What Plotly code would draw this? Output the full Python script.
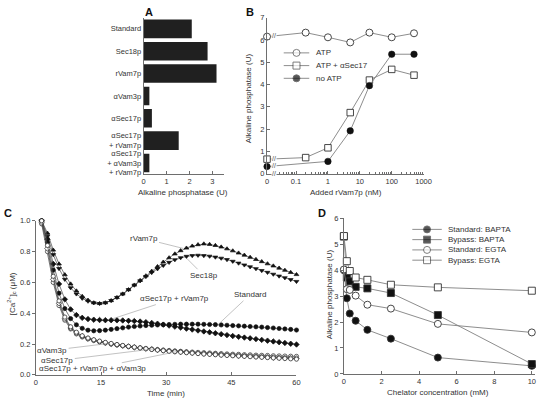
import numpy as np
import plotly.graph_objects as go

W, H = 544, 405
FONT = "Liberation Sans, Arial, Helvetica, sans-serif"
TXT = "#333333"
AXC = "#6e6e6e"
LNC = "#808080"

# ---------------- Panel A data ----------------
a_categories = ["Standard", "Sec18p", "rVam7p", "αVam3p", "αSec17p",
                "αSec17p<br>+ rVam7p", "αSec17p<br>+ αVam3p<br>+ rVam7p"]
a_values = [2.1, 2.79, 3.18, 0.25, 0.36, 1.53, 0.25]
a_ticks = [0, 1, 2, 3]

# ---------------- Panel B data ----------------
b_x_atp = [0, 0.2, 1, 5, 20, 100, 500]
b_atp = [6.15, 6.33, 6.12, 5.89, 6.33, 6.12, 6.30]
b_x_sec17 = [0, 0.2, 1, 5, 20, 100, 500]
b_atp_sec17 = [0.65, 0.72, 1.16, 2.74, 4.20, 4.68, 4.42]
b_x_noatp = [0, 1, 5, 20, 100, 500]
b_noatp = [0.32, 0.55, 1.92, 3.95, 5.36, 5.36]
b_ticktext = ["0", "0.1", "1", "10", "100", "1000"]
b_tickvals_real = [0, 0.1, 1, 10, 100, 1000]

# ---------------- Panel C data ----------------
c_time = [1.33, 2.67, 4.0, 5.33, 6.67, 8.0, 9.33, 10.67, 12.0, 13.33, 14.67, 16.0,
          17.33, 18.67, 20.0, 21.33, 22.67, 24.0, 25.33, 26.67, 28.0, 29.33, 30.67,
          32.0, 33.33, 34.67, 36.0, 37.33, 38.67, 40.0, 41.33, 42.67, 44.0, 45.33,
          46.67, 48.0, 49.33, 50.67, 52.0, 53.33, 54.67, 56.0, 57.33, 58.67, 60.0]
c_rvam7p = [1.00, 0.92, 0.81, 0.72, 0.65, 0.59, 0.545, 0.51, 0.485, 0.468, 0.463, 0.468, 0.482, 0.502,
            0.525, 0.553, 0.583, 0.613, 0.643, 0.673, 0.703, 0.732, 0.76, 0.785, 0.806, 0.823, 0.836, 0.845, 0.85,
            0.847, 0.84, 0.83, 0.818, 0.805, 0.791, 0.777, 0.763, 0.749, 0.735, 0.721, 0.707, 0.693, 0.679, 0.665, 0.651]
c_sec18p = [1.00, 0.90, 0.78, 0.69, 0.62, 0.565, 0.525, 0.497, 0.478, 0.467, 0.463, 0.468, 0.482, 0.502,
            0.525, 0.553, 0.582, 0.61, 0.638, 0.664, 0.688, 0.71, 0.73, 0.747, 0.76, 0.769, 0.774, 0.776, 0.774,
            0.77, 0.764, 0.757, 0.748, 0.737, 0.725, 0.713, 0.701, 0.689, 0.677, 0.665, 0.653, 0.641, 0.63, 0.618, 0.606]
c_sec17_rvam = [1.00, 0.88, 0.72, 0.59, 0.49, 0.425, 0.388, 0.37, 0.362, 0.358, 0.356, 0.355, 0.355, 0.354,
                0.353, 0.351, 0.349, 0.346, 0.342, 0.337, 0.332, 0.326, 0.32, 0.313, 0.307, 0.30, 0.294, 0.288, 0.282,
                0.276, 0.27, 0.264, 0.258, 0.252, 0.247, 0.242, 0.237, 0.232, 0.227, 0.222, 0.217, 0.212, 0.207, 0.202, 0.197]
c_standard = [1.00, 0.86, 0.68, 0.53, 0.43, 0.365, 0.325, 0.302, 0.29, 0.286, 0.287, 0.29, 0.295, 0.30,
              0.305, 0.31, 0.314, 0.317, 0.32, 0.322, 0.324, 0.326, 0.327, 0.328, 0.329, 0.329, 0.329, 0.329, 0.328,
              0.327, 0.326, 0.324, 0.322, 0.32, 0.318, 0.316, 0.314, 0.312, 0.31, 0.307, 0.304, 0.301, 0.298, 0.295, 0.291]
c_vam3 = [0.98, 0.80, 0.60, 0.45, 0.355, 0.298, 0.266, 0.246, 0.233, 0.223, 0.214, 0.207, 0.2, 0.194,
          0.189, 0.184, 0.179, 0.175, 0.171, 0.167, 0.164, 0.161, 0.158, 0.155, 0.153, 0.15, 0.148, 0.146, 0.144,
          0.142, 0.14, 0.138, 0.136, 0.134, 0.133, 0.131, 0.13, 0.128, 0.127, 0.126, 0.124, 0.123, 0.122, 0.121, 0.12]
c_sec17 = [0.99, 0.82, 0.62, 0.465, 0.365, 0.305, 0.272, 0.25, 0.236, 0.225, 0.216, 0.208, 0.201, 0.195,
           0.189, 0.184, 0.179, 0.174, 0.17, 0.166, 0.162, 0.158, 0.155, 0.152, 0.149, 0.146, 0.143, 0.14, 0.138,
           0.136, 0.133, 0.131, 0.129, 0.127, 0.125, 0.123, 0.121, 0.119, 0.117, 0.115, 0.113, 0.112, 0.11, 0.109, 0.107]
c_triple = [1.00, 0.84, 0.64, 0.48, 0.375, 0.312, 0.277, 0.254, 0.239, 0.228, 0.219, 0.211, 0.204, 0.197,
            0.191, 0.185, 0.18, 0.175, 0.17, 0.165, 0.161, 0.157, 0.153, 0.15, 0.147, 0.144, 0.141, 0.138, 0.135,
            0.133, 0.131, 0.128, 0.126, 0.124, 0.122, 0.12, 0.118, 0.116, 0.114, 0.112, 0.11, 0.108, 0.106, 0.104, 0.102]
c_ticks_x = [0, 15, 30, 45, 60]
c_ticks_y = [0.0, 0.2, 0.4, 0.6, 0.8, 1.0]

# ---------------- Panel D data ----------------
d_x = [0, 0.156, 0.3125, 0.625, 1.25, 2.5, 5, 10]
d_std_bapta = [4.0, 2.92, 2.33, 2.05, 1.70, 1.36, 0.63, 0.31]
d_byp_bapta = [5.3, 3.72, 3.57, 3.36, 3.30, 3.12, 2.27, 0.38]
d_std_egta = [4.03, 3.27, 3.24, 3.02, 2.67, 2.52, 1.93, 1.60]
d_byp_egta = [5.32, 4.35, 3.97, 3.72, 3.63, 3.44, 3.34, 3.21]
d_ticks_x = [0, 2, 4, 6, 8, 10]
d_ticks_y = [0, 1, 2, 3, 4, 5, 6]


def xd(a, b):
    return [a / W, b / W]


def yd(top, bottom):
    return [1 - bottom / H, 1 - top / H]


fig = go.Figure()

# ---- A ----
fig.add_trace(go.Bar(y=a_categories, x=a_values, orientation="h",
                     marker=dict(color="#202020", line=dict(width=0)),
                     xaxis="x", yaxis="y", showlegend=False))

# ---- B ----
ZERO_POS = 10 ** (-1.91)


def bx(vals):
    return [ZERO_POS if v == 0 else v for v in vals]


line_b = dict(color=LNC, width=0.9)
fig.add_trace(go.Scatter(x=bx(b_x_atp), y=b_atp, mode="lines+markers", line=line_b,
                         marker=dict(symbol="circle", size=7, color="white", line=dict(color="#333", width=0.9)),
                         xaxis="x2", yaxis="y2", showlegend=False, cliponaxis=False))
fig.add_trace(go.Scatter(x=bx(b_x_sec17), y=b_atp_sec17, mode="lines+markers", line=line_b,
                         marker=dict(symbol="square", size=6.5, color="white", line=dict(color="#333", width=0.9)),
                         xaxis="x2", yaxis="y2", showlegend=False, cliponaxis=False))
fig.add_trace(go.Scatter(x=bx(b_x_noatp), y=b_noatp, mode="lines+markers", line=line_b,
                         marker=dict(symbol="circle", size=6.5, color="#111", line=dict(color="#111", width=0.5)),
                         xaxis="x2", yaxis="y2", showlegend=False, cliponaxis=False))

# ---- C ----
c_series = [
    (c_rvam7p, "triangle-up", "#111", "#111"),
    (c_sec18p, "triangle-down", "#111", "#111"),
    (c_sec17_rvam, "diamond", "#111", "#111"),
    (c_standard, "circle", "#111", "#111"),
    (c_vam3, "circle", "white", "#222"),
    (c_sec17, "diamond", "white", "#222"),
    (c_triple, "circle", "white", "#222"),
]
for ys, sym, fc, lc in c_series:
    fig.add_trace(go.Scatter(x=c_time, y=ys, mode="lines+markers",
                             line=dict(color="#444", width=0.7),
                             marker=dict(symbol=sym, size=4.2, color=fc, line=dict(color=lc, width=0.7)),
                             xaxis="x3", yaxis="y3", showlegend=False, cliponaxis=False))

# ---- D ----
d_series = [
    (d_std_bapta, "circle", "#111"),
    (d_byp_bapta, "square", "#111"),
    (d_std_egta, "circle", "white"),
    (d_byp_egta, "square", "white"),
]
for ys, sym, fc in d_series:
    fig.add_trace(go.Scatter(x=d_x, y=ys, mode="lines+markers", line=dict(color=LNC, width=0.9),
                             marker=dict(symbol=sym, size=7, color=fc, line=dict(color="#333", width=0.9)),
                             xaxis="x4", yaxis="y4", showlegend=False, cliponaxis=False))

# ---- legends drawn on a pixel helper axis ----
b_leg = [("ATP", "circle", "white", 50), ("ATP + αSec17", "square", "white", 63), ("no ATP", "circle", "#111", 76)]
d_leg = [("Standard: BAPTA", "circle", "#111", 230.5), ("Bypass: BAPTA", "square", "#111", 241),
         ("Standard: EGTA", "circle", "white", 251.5), ("Bypass: EGTA", "square", "white", 262)]
annotations = []
for entries, x0, x1, xt in [(b_leg, 287, 313, 318), (d_leg, 418, 448, 452)]:
    for label, sym, fc, yy in entries:
        fig.add_trace(go.Scatter(x=[x0, (x0 + x1) / 2, x1], y=[yy, yy, yy], mode="lines+markers",
                                 line=dict(color=LNC, width=0.9),
                                 marker=dict(symbol=sym, size=[0, 7, 0], color=fc, line=dict(color="#333", width=0.9)),
                                 xaxis="x5", yaxis="y5", showlegend=False))
        annotations.append(dict(x=xt, y=yy, xref="x5", yref="y5", text=label, showarrow=False,
                                xanchor="left", yanchor="middle", font=dict(size=8, color=TXT)))

# ---- break marks on panel B ----
lz = np.log10(ZERO_POS)
lbreak = lz + 0.22
for xs, ys in [(b_x_atp, b_atp), (b_x_sec17, b_atp_sec17), (b_x_noatp, b_noatp)]:
    l1 = np.log10(xs[1])
    yb = ys[0] + (ys[1] - ys[0]) * (lbreak - lz) / (l1 - lz)
    annotations.append(dict(x=lbreak, y=yb, xref="x2", yref="y2", text="//", showarrow=False,
                            font=dict(size=7, color="#444"), bgcolor="white", borderpad=0))
annotations.append(dict(x=lbreak, y=0, xref="x2", yref="y2", text="//", showarrow=False,
                        font=dict(size=7, color="#444"), bgcolor="white", borderpad=0))


def pann(x, y, text, size=8, angle=0, bold=False, xanchor="center"):
    t = f"<b>{text}</b>" if bold else text
    annotations.append(dict(x=x / W, y=1 - y / H, xref="paper", yref="paper", text=t, showarrow=False,
                            textangle=angle, xanchor=xanchor, yanchor="middle",
                            font=dict(size=size, color="#111" if bold else TXT)))


pann(150, 8, "A", 11, bold=True)
pann(253, 8, "B", 11, bold=True)
pann(6, 214, "C", 11, bold=True)
pann(326, 214, "D", 11, bold=True)
pann(184, 193, "Alkaline phosphatase (U)")
pann(350, 193, "Added rVam7p (nM)")
pann(251, 96, "Alkaline phosphatase (U)", angle=-90)
pann(167, 398, "Time (min)")
pann(10, 296, "[Ca<sup>2+</sup>]<sub>c</sub> (μM)", angle=-90)
pann(444, 397, "Chelator concentration (mM)")
pann(334, 297, "Alkaline phosphatase (U)", angle=-90)

# ---- panel C curve labels ----
c_labels = [("rVam7p", 34.0, 0.82, -40, -10), ("Sec18p", 34.7, 0.757, 17, 17),
            ("αSec17p + rVam7p", 17.8, 0.365, 61, -20), ("Standard", 41.9, 0.325, 32, -30),
            ("αVam3p", 17.1, 0.205, -58, 7), ("αSec17p", 27.5, 0.17, -98, 12),
            ("αSec17p + rVam7p + αVam3p", 32.3, 0.15, -84, 17)]
for text, xt, yt, ax, ay in c_labels:
    annotations.append(dict(x=xt, y=yt, xref="x3", yref="y3", text=text, showarrow=True, arrowhead=0,
                            arrowwidth=0.6, arrowcolor="#999", ax=ax, ay=ay, standoff=0,
                            font=dict(size=8, color=TXT)))

axis_common = dict(showline=True, linecolor=AXC, linewidth=1, showgrid=False, zeroline=False,
                   tickfont=dict(size=7.5, color=TXT, family=FONT), tickcolor=AXC, ticklen=3, tickwidth=1,
                   ticklabeloverflow="allow")

fig.update_layout(
    width=W, height=H, margin=dict(l=0, r=0, t=0, b=0), paper_bgcolor="white",
    plot_bgcolor="rgba(0,0,0,0)",
    font=dict(family=FONT, color=TXT), bargap=0.17, showlegend=False,
    xaxis=dict(domain=xd(144.3, 226), range=[0, 3.5], tickvals=a_ticks, ticks="inside", anchor="y",
               **axis_common),
    yaxis=dict(domain=yd(14, 174), type="category", autorange="reversed", ticks="", anchor="x",
               **{k: v for k, v in axis_common.items() if k not in ("ticklen",)}),
    xaxis2=dict(domain=xd(270, 429.5), type="log", range=[lz, 3.0],
                tickvals=[ZERO_POS if v == 0 else v for v in b_tickvals_real], ticktext=b_ticktext,
                ticks="inside", anchor="y2",
                minor=dict(ticks="inside", ticklen=2, tickcolor=AXC,
                           tickvals=[k * 10.0 ** e for e in range(-2, 3) for k in range(2, 10) if k * 10.0 ** e > 0.019]),
                **axis_common),
    yaxis2=dict(domain=yd(14, 173.5), range=[0, 7], dtick=1, ticks="inside", anchor="x2", **axis_common),
    xaxis3=dict(domain=xd(34.5, 300), range=[0, 60], tickvals=c_ticks_x, ticks="inside", anchor="y3",
                **axis_common),
    yaxis3=dict(domain=yd(221.7, 379.3), range=[0, 1.0], tickvals=c_ticks_y, tickformat=".1f",
                ticks="outside", anchor="x3", **axis_common),
    xaxis4=dict(domain=xd(348.3, 543), range=[0, 10.17], tickvals=d_ticks_x, ticks="inside", anchor="y4",
                **axis_common),
    yaxis4=dict(domain=yd(219.3, 378.3), range=[0, 6], tickvals=d_ticks_y, ticks="outside", anchor="x4",
                **axis_common),
    xaxis5=dict(domain=[0, 1], range=[0, W], visible=False, anchor="y5", fixedrange=True),
    yaxis5=dict(domain=[0, 1], range=[H, 0], visible=False, anchor="x5", fixedrange=True),
    annotations=annotations,
)

fig.write_html("out.html", config={"displayModeBar": False},
               post_script="document.body.style.margin='0px';document.body.style.overflow='hidden';")
